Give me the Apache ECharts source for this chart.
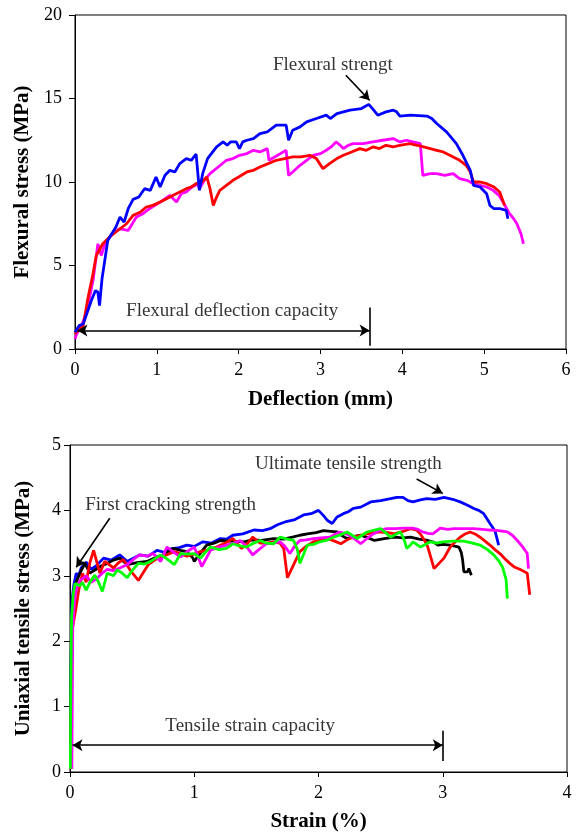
<!DOCTYPE html>
<html><head><meta charset="utf-8">
<script src="https://cdn.jsdelivr.net/npm/echarts@6/dist/echarts.min.js"></script>
<style>html,body{margin:0;padding:0;background:#fff}#c{width:578px;height:835px}</style>
</head><body><div id="c"></div>
<script>
// ---- Top panel: flexural stress vs deflection ----
const flexBlue = [[0,1.0],[0.05,1.4],[0.1,1.5],[0.15,2.2],[0.2,2.9],[0.25,3.5],[0.28,3.4],[0.3,2.6],[0.33,4.2],[0.37,5.5],[0.4,6.5],[0.45,6.9],[0.5,7.3],[0.55,7.9],[0.6,7.6],[0.65,8.4],[0.71,8.96],[0.78,9.1],[0.85,9.6],[0.92,9.5],[0.99,10.3],[1.04,9.7],[1.1,10.4],[1.16,10.7],[1.22,10.6],[1.28,11.1],[1.36,11.4],[1.42,11.3],[1.48,11.67],[1.5,11.6],[1.52,9.5],[1.56,10.5],[1.62,11.4],[1.73,12.1],[1.81,12.4],[1.86,12.2],[1.9,12.4],[1.97,12.4],[2.01,12.0],[2.05,12.4],[2.1,12.5],[2.18,12.6],[2.26,12.9],[2.35,13.0],[2.46,13.4],[2.58,13.4],[2.61,12.5],[2.66,13.1],[2.75,13.3],[2.83,13.6],[2.95,13.8],[3.07,14.0],[3.12,13.8],[3.2,14.1],[3.36,14.3],[3.5,14.4],[3.59,14.65],[3.65,14.3],[3.7,14.0],[3.8,14.2],[3.89,14.3],[3.93,14.2],[3.97,13.95],[4.1,14.0],[4.3,13.95],[4.36,13.8],[4.42,13.5],[4.54,13.0],[4.66,12.3],[4.74,11.6],[4.83,10.7],[4.87,9.8],[4.95,9.7],[5.03,9.3],[5.07,8.6],[5.12,8.4],[5.2,8.4],[5.27,8.3],[5.29,7.8]];
const flexRed = [[0.0,0.9],[0.02,1.05],[0.1,1.4],[0.16,3.1],[0.22,4.5],[0.26,5.6],[0.34,6.3],[0.42,6.7],[0.55,7.2],[0.63,7.5],[0.71,8.0],[0.8,8.2],[0.87,8.5],[0.95,8.6],[1.04,8.8],[1.12,9.0],[1.2,9.2],[1.28,9.4],[1.36,9.6],[1.42,9.7],[1.48,9.9],[1.55,10.0],[1.61,10.3],[1.65,9.6],[1.69,8.6],[1.73,9.1],[1.77,9.5],[1.85,9.8],[1.93,10.1],[2.0,10.3],[2.1,10.6],[2.18,10.7],[2.26,10.9],[2.36,11.1],[2.46,11.3],[2.56,11.4],[2.66,11.5],[2.76,11.5],[2.87,11.6],[2.95,11.4],[3.03,10.8],[3.11,11.1],[3.2,11.4],[3.28,11.6],[3.38,11.8],[3.48,12.0],[3.56,11.9],[3.64,12.1],[3.72,12.0],[3.8,12.2],[3.89,12.1],[3.97,12.2],[4.09,12.3],[4.18,12.2],[4.26,12.1],[4.34,12.0],[4.42,11.9],[4.5,11.8],[4.58,11.6],[4.7,11.3],[4.78,11.0],[4.83,10.6],[4.87,10.0],[4.95,10.0],[5.03,9.9],[5.12,9.7],[5.19,9.4],[5.25,8.6]];
const flexMagenta = [[0.0,0.6],[0.02,0.9],[0.08,1.4],[0.14,2.15],[0.22,4.1],[0.28,6.3],[0.32,5.6],[0.36,6.2],[0.45,6.9],[0.55,7.2],[0.65,7.1],[0.75,7.9],[0.83,8.1],[0.91,8.4],[1.04,8.8],[1.16,9.2],[1.24,8.8],[1.3,9.3],[1.36,9.4],[1.43,9.7],[1.5,9.9],[1.52,9.6],[1.58,10.1],[1.65,10.5],[1.75,10.9],[1.85,11.3],[1.93,11.4],[2.01,11.6],[2.1,11.7],[2.18,11.9],[2.26,11.8],[2.35,12.0],[2.37,11.3],[2.44,11.5],[2.51,11.7],[2.58,11.9],[2.61,10.4],[2.66,10.6],[2.75,11.0],[2.83,11.3],[2.91,11.6],[3.0,11.7],[3.07,11.9],[3.13,12.1],[3.19,12.4],[3.24,12.2],[3.28,12.0],[3.34,12.2],[3.4,12.3],[3.52,12.3],[3.64,12.4],[3.76,12.5],[3.89,12.6],[3.97,12.4],[4.05,12.5],[4.13,12.4],[4.22,12.3],[4.25,10.4],[4.34,10.5],[4.42,10.5],[4.52,10.4],[4.62,10.5],[4.7,10.2],[4.79,10.1],[4.87,9.9],[4.95,9.8],[5.03,9.7],[5.11,9.5],[5.18,9.2],[5.23,8.8],[5.31,8.1],[5.36,7.8],[5.4,7.5],[5.45,6.9],[5.48,6.3]];

// ---- Bottom panel: uniaxial tensile stress vs strain ----
const tensBlue = [[0.003,0.05],[0.008,1.5],[0.015,2.6],[0.03,2.85],[0.05,3.04],[0.07,3.0],[0.09,3.12],[0.13,3.21],[0.17,3.1],[0.21,3.15],[0.27,3.27],[0.33,3.24],[0.40,3.32],[0.46,3.22],[0.51,3.27],[0.56,3.32],[0.63,3.3],[0.70,3.39],[0.76,3.36],[0.81,3.41],[0.88,3.43],[0.94,3.47],[1.0,3.45],[1.07,3.52],[1.14,3.5],[1.21,3.57],[1.26,3.56],[1.31,3.62],[1.39,3.64],[1.48,3.7],[1.55,3.69],[1.61,3.72],[1.67,3.78],[1.74,3.83],[1.81,3.86],[1.88,3.93],[1.94,3.95],[2.0,4.0],[2.04,3.92],[2.07,3.85],[2.11,3.8],[2.15,3.9],[2.2,3.95],[2.24,3.98],[2.28,4.03],[2.34,4.05],[2.42,4.13],[2.5,4.15],[2.58,4.18],[2.63,4.2],[2.68,4.2],[2.72,4.15],[2.76,4.13],[2.82,4.16],[2.87,4.18],[2.94,4.17],[3.01,4.2],[3.08,4.17],[3.14,4.13],[3.2,4.08],[3.25,4.03],[3.29,4.0],[3.33,3.95],[3.38,3.8],[3.42,3.69],[3.45,3.47]];
const tensBlack = [[0.004,0.05],[0.01,1.8],[0.02,2.6],[0.04,2.86],[0.08,3.04],[0.12,3.19],[0.16,3.04],[0.21,3.1],[0.25,3.15],[0.3,3.19],[0.35,3.24],[0.4,3.27],[0.46,3.17],[0.54,3.2],[0.62,3.22],[0.68,3.27],[0.75,3.32],[0.83,3.42],[0.89,3.39],[0.94,3.37],[0.99,3.27],[1.0,3.22],[1.05,3.35],[1.1,3.47],[1.16,3.5],[1.21,3.54],[1.3,3.53],[1.4,3.52],[1.47,3.55],[1.54,3.54],[1.64,3.57],[1.72,3.56],[1.79,3.59],[1.85,3.62],[1.91,3.64],[1.98,3.66],[2.04,3.69],[2.1,3.68],[2.15,3.67],[2.2,3.6],[2.23,3.57],[2.28,3.6],[2.34,3.62],[2.4,3.58],[2.45,3.54],[2.53,3.57],[2.61,3.59],[2.68,3.58],[2.74,3.59],[2.81,3.56],[2.88,3.54],[2.93,3.51],[2.96,3.47],[3.0,3.48],[3.06,3.47],[3.13,3.44],[3.15,3.35],[3.16,3.24],[3.17,3.06],[3.2,3.06],[3.21,3.11],[3.23,3.01]];
const tensRed = [[0.006,0.05],[0.012,1.5],[0.02,2.2],[0.05,2.53],[0.07,2.78],[0.1,3.04],[0.13,2.9],[0.16,3.2],[0.19,3.39],[0.24,3.04],[0.28,3.22],[0.31,3.18],[0.35,3.12],[0.39,3.2],[0.43,3.25],[0.49,3.07],[0.55,2.93],[0.59,3.05],[0.63,3.17],[0.69,3.25],[0.75,3.3],[0.84,3.37],[0.94,3.3],[1.0,3.33],[1.05,3.37],[1.12,3.4],[1.18,3.44],[1.25,3.5],[1.31,3.57],[1.38,3.42],[1.43,3.5],[1.47,3.59],[1.53,3.5],[1.58,3.5],[1.64,3.52],[1.69,3.5],[1.72,3.42],[1.75,2.97],[1.8,3.17],[1.85,3.37],[1.9,3.45],[1.96,3.52],[2.02,3.55],[2.07,3.57],[2.13,3.53],[2.18,3.49],[2.23,3.55],[2.28,3.59],[2.34,3.62],[2.39,3.64],[2.45,3.66],[2.5,3.67],[2.56,3.66],[2.61,3.64],[2.68,3.68],[2.74,3.72],[2.79,3.7],[2.82,3.64],[2.86,3.52],[2.88,3.44],[2.93,3.11],[2.97,3.19],[3.01,3.27],[3.06,3.44],[3.1,3.52],[3.14,3.59],[3.18,3.64],[3.22,3.67],[3.26,3.64],[3.3,3.59],[3.34,3.53],[3.38,3.47],[3.42,3.4],[3.46,3.34],[3.5,3.26],[3.54,3.19],[3.58,3.13],[3.62,3.1],[3.66,3.06],[3.68,3.04],[3.7,2.71]];
const tensMagenta = [[0.015,0.05],[0.018,1.0],[0.022,2.2],[0.035,2.6],[0.05,2.78],[0.08,2.93],[0.13,3.0],[0.17,2.9],[0.21,2.95],[0.26,3.04],[0.3,3.1],[0.35,3.08],[0.4,3.12],[0.46,3.17],[0.51,3.25],[0.56,3.32],[0.62,3.3],[0.67,3.34],[0.73,3.22],[0.78,3.44],[0.84,3.35],[0.89,3.29],[0.95,3.38],[1.0,3.44],[1.03,3.3],[1.06,3.14],[1.1,3.28],[1.13,3.39],[1.2,3.44],[1.26,3.47],[1.32,3.5],[1.37,3.54],[1.42,3.45],[1.47,3.32],[1.52,3.4],[1.58,3.49],[1.63,3.5],[1.69,3.52],[1.73,3.45],[1.77,3.34],[1.81,3.46],[1.85,3.54],[1.9,3.55],[1.96,3.57],[2.02,3.58],[2.09,3.59],[2.13,3.63],[2.17,3.67],[2.21,3.65],[2.25,3.62],[2.3,3.55],[2.34,3.49],[2.39,3.57],[2.44,3.64],[2.49,3.69],[2.55,3.72],[2.62,3.72],[2.69,3.73],[2.76,3.73],[2.8,3.71],[2.84,3.67],[2.88,3.65],[2.92,3.64],[2.98,3.73],[3.04,3.71],[3.09,3.72],[3.17,3.72],[3.25,3.72],[3.32,3.71],[3.38,3.7],[3.45,3.69],[3.52,3.67],[3.56,3.62],[3.6,3.54],[3.64,3.45],[3.68,3.34],[3.69,3.11]];
const tensGreen = [[0.003,0.05],[0.006,1.2],[0.01,2.0],[0.013,2.37],[0.025,2.7],[0.04,2.88],[0.08,2.85],[0.1,2.9],[0.13,2.78],[0.16,2.9],[0.2,3.01],[0.23,2.9],[0.26,2.76],[0.3,3.04],[0.35,3.0],[0.38,3.09],[0.42,3.04],[0.46,2.97],[0.5,3.08],[0.55,3.19],[0.6,3.18],[0.65,3.22],[0.69,3.27],[0.73,3.32],[0.78,3.26],[0.84,3.17],[0.89,3.34],[0.95,3.33],[1.0,3.34],[1.05,3.27],[1.09,3.36],[1.13,3.44],[1.2,3.4],[1.26,3.42],[1.31,3.49],[1.36,3.46],[1.42,3.44],[1.48,3.5],[1.53,3.54],[1.58,3.5],[1.64,3.49],[1.69,3.59],[1.75,3.56],[1.8,3.54],[1.83,3.4],[1.85,3.19],[1.88,3.33],[1.91,3.47],[1.96,3.48],[2.01,3.52],[2.06,3.54],[2.12,3.59],[2.18,3.63],[2.23,3.67],[2.27,3.62],[2.31,3.57],[2.35,3.62],[2.39,3.67],[2.45,3.7],[2.5,3.72],[2.54,3.66],[2.58,3.59],[2.62,3.63],[2.66,3.67],[2.69,3.55],[2.71,3.42],[2.74,3.47],[2.76,3.52],[2.79,3.48],[2.82,3.44],[2.86,3.48],[2.9,3.52],[2.95,3.5],[3.0,3.52],[3.08,3.53],[3.17,3.53],[3.24,3.5],[3.3,3.47],[3.36,3.4],[3.41,3.32],[3.45,3.23],[3.48,3.14],[3.51,2.94],[3.52,2.65]];

// ---- Axis ticks ----
const flexXTicks = [0, 6, 1];
const flexYTicks = [0, 20, 5];
const tensXTicks = [0, 4, 1];
const tensYTicks = [0, 5, 1];

// ---- Annotations (data coordinates) ----
const flexTexts = [{name:'Flexural strengt', value:[3.15,16.98]},{name:'Flexural deflection capacity', value:[1.92,2.29]}];
const flexArrow = [[3.31,16.39],[3.60,14.89]];
const flexCapacity = [[0.03,1.11],[3.6,1.11]];
const flexBar = [[3.6,0.2],[3.6,2.49]];
const tensTexts = [{name:'Ultimate tensile strength', value:[2.24,4.71]},{name:'First cracking strength', value:[0.81,4.08]},{name:'Tensile strain capacity', value:[1.45,0.71]}];
const tensArrowUlt = [[2.79,4.48],[3.0,4.26]];
const tensArrowFirst = [[0.32,3.88],[0.05,3.13]];
const tensCapacity = [[0.02,0.41],[3.0,0.41]];
const tensBar = [[3.0,0.17],[3.0,0.63]];

const FONT = 'Liberation Serif';
const chart = echarts.init(document.getElementById('c'), null, {renderer:'canvas'});

function xAxis(ticks, gi, name, gap){
  return {type:'value', gridIndex:gi, min:ticks[0], max:ticks[1], interval:ticks[2],
    name:name, nameLocation:'middle', nameGap:gap,
    nameTextStyle:{fontFamily:FONT, fontWeight:'bold', fontSize:21, color:'#000'},
    axisLine:{show:true, onZero:false, lineStyle:{color:'#000', width:1}},
    axisTick:{show:true, inside:false, length:5, lineStyle:{color:'#000'}},
    axisLabel:{fontFamily:FONT, fontSize:18, color:'#000', margin:12},
    splitLine:{show:false}};
}
function yAxis(ticks, gi, name, gap, lm){
  return {type:'value', gridIndex:gi, min:ticks[0], max:ticks[1], interval:ticks[2],
    name:name, nameLocation:'middle', nameGap:gap,
    nameTextStyle:{fontFamily:FONT, fontWeight:'bold', fontSize:21, color:'#000'},
    axisLine:{show:true, onZero:false, lineStyle:{color:'#000', width:1}},
    axisTick:{show:true, inside:false, length:6, lineStyle:{color:'#000'}},
    axisLabel:{fontFamily:FONT, fontSize:18, color:'#000', margin:lm},
    splitLine:{show:false}};
}
function curve(data, color, xi, yi){
  return {type:'line', xAxisIndex:xi, yAxisIndex:yi, data:data, showSymbol:false, symbol:'none',
    lineStyle:{color:color, width:2.8}, itemStyle:{color:color}, silent:true, z:2};
}
function seg(a, b, s0, s1){
  return [{coord:a, symbol:s0}, {coord:b, symbol:s1}];
}
function annot(xi, yi, texts, lines){
  return [
    {type:'scatter', xAxisIndex:xi, yAxisIndex:yi, data:texts, symbolSize:1, itemStyle:{color:'rgba(0,0,0,0)'},
     silent:true, z:5,
     label:{show:true, position:'inside', formatter:'{b}', fontFamily:FONT, fontSize:19, color:'#000'}},
    {type:'line', xAxisIndex:xi, yAxisIndex:yi, data:[], silent:true, z:4,
     markLine:{silent:true, symbolSize:[9,10], label:{show:false}, animation:false,
       lineStyle:{color:'#000', width:1.6, type:'solid'}, data:lines}}
  ];
}

const option = {
  animation:false,
  backgroundColor:'#fff',
  grid:[
    {left:75, right:12, top:15, height:334, show:true, borderColor:'#000', borderWidth:1, backgroundColor:'transparent'},
    {left:70, right:11, top:445, height:327, show:true, borderColor:'#000', borderWidth:1, backgroundColor:'transparent'}
  ],
  xAxis:[ xAxis(flexXTicks,0,'Deflection (mm)',40), xAxis(tensXTicks,1,'Strain (%)',39) ],
  yAxis:[ yAxis(flexYTicks,0,'Flexural stress (MPa)',41,13), yAxis(tensYTicks,1,'Uniaxial tensile stress (MPa)',36,9) ],
  series:[
    curve(flexMagenta,'#FF00FF',0,0),
    curve(flexRed,'#FF0000',0,0),
    curve(flexBlue,'#0000FF',0,0),
    curve(tensBlue,'#0000FF',1,1),
    curve(tensBlack,'#000000',1,1),
    curve(tensRed,'#FF0000',1,1),
    curve(tensMagenta,'#FF00FF',1,1),
    curve(tensGreen,'#00FF00',1,1),
    ...annot(0,0,flexTexts,[
      seg(flexArrow[0],flexArrow[1],'none','arrow'),
      seg(flexCapacity[0],flexCapacity[1],'arrow','arrow'),
      seg(flexBar[0],flexBar[1],'none','none')
    ]),
    ...annot(1,1,tensTexts,[
      seg(tensArrowUlt[0],tensArrowUlt[1],'none','arrow'),
      seg(tensArrowFirst[0],tensArrowFirst[1],'none','arrow'),
      seg(tensCapacity[0],tensCapacity[1],'arrow','arrow'),
      seg(tensBar[0],tensBar[1],'none','none')
    ])
  ]
};
chart.setOption(option);
</script></body></html>
